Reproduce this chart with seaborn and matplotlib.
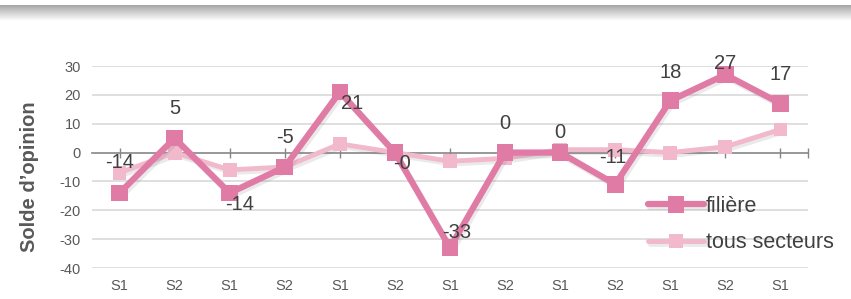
import numpy as np
import pandas as pd
import seaborn as sns
import matplotlib.pyplot as plt
import matplotlib.patheffects as pe

# semesters and opinion balances
semestres = ['S1', 'S2', 'S1', 'S2', 'S1', 'S2', 'S1', 'S2', 'S1', 'S2', 'S1', 'S2', 'S1']
filiere = [-14, 5, -14, -5, 21, 0, -33, 0, 0, -11, 18, 27, 17]
tous_secteurs = [-7, 0, -6, -5, 3, 0, -3, -2, 1, 1, 0, 2, 8]
etiquettes = ['-14', '5', '-14', '-5', '21', '-0', '-33', '0', '0', '-11', '18', '27', '17']
y_ticks = [30, 20, 10, 0, -10, -20, -30, -40]

# label offsets in pixels (dx, dy)
offsets = [(0, 30), (0, 30), (10, -12), (0, 29), (12, -12), (7, -11), (7, 15),
           (0, 29), (0, 20), (-2, 27), (0, 28), (0, 11), (0, 29)]

c_fil = '#E07BA6'
c_tous = '#F2B8CC'
txt = '#404040'

df = pd.DataFrame({'pos': np.arange(len(semestres)), 'filiere': filiere, 'tous': tous_secteurs})

sns.set_style('white')
plt.rcParams['font.family'] = ['Liberation Sans', 'DejaVu Sans']

fig = plt.figure(figsize=(8.51, 2.99), dpi=100)

# gradient band on top
gax = fig.add_axes([0, 1 - 21 / 299, 1, 16 / 299])
grad = np.linspace(0.58, 1.0, 64) ** 0.8
gax.imshow(np.repeat(grad[:, None], 4, axis=1), cmap='gray', vmin=0, vmax=1, aspect='auto')
gax.axis('off')

ax = fig.add_axes([92 / 851, 1 - 268 / 299, (808 - 92) / 851, (268 - 66) / 299])

shadow = [pe.SimpleLineShadow(offset=(1.5, -2), shadow_color='#777777', alpha=0.15), pe.Normal()]

sns.lineplot(data=df, x='pos', y='tous', ax=ax, color=c_tous, lw=3.5, marker='s', ms=10,
             markeredgewidth=0, label='tous secteurs', path_effects=shadow, zorder=3)
sns.lineplot(data=df, x='pos', y='filiere', ax=ax, color=c_fil, lw=4.5, marker='s', ms=12,
             markeredgewidth=0, label='filière', path_effects=shadow, zorder=4)

for i, (v, lab) in enumerate(zip(filiere, etiquettes)):
    dx, dy = offsets[i]
    ax.annotate(lab, (i, v), xytext=(dx * 0.72, dy * 0.72), textcoords='offset points',
                ha='center', va='center', fontsize=14.5, color=txt, zorder=5)

ax.set_xlim(-0.5, len(semestres) - 0.5)
ax.set_ylim(-40, 30)
ax.set_xticks(range(len(semestres)))
ax.set_xticklabels(semestres)
ax.set_yticks(y_ticks)
ax.set_yticklabels([str(t) for t in y_ticks])
ax.tick_params(axis='both', length=0, labelsize=10.5, labelcolor='#595959')
ax.tick_params(axis='x', pad=8)
ax.tick_params(axis='y', pad=8)
for s in ax.spines.values():
    s.set_visible(False)
for t in y_ticks:
    if t != 0:
        ax.axhline(t, color='#D9D9D9', lw=1.2, zorder=0)

# zero axis with tick marks
sec = ax.secondary_xaxis(40 / 70)
sec.set_xticks(list(range(len(semestres))) + [len(semestres) - 0.5])
sec.tick_params(direction='inout', length=7, width=1, color='#868686', labelbottom=False, labeltop=False)
for name, s in sec.spines.items():
    s.set_visible(name == 'bottom')
sec.spines['bottom'].set_color('#868686')
sec.spines['bottom'].set_linewidth(1.2)
sec.spines['bottom'].set_zorder(1)

ax.set_xlabel('')
ax.set_ylabel('')
fig.text(30 / 851, 1 - 177 / 299, 'Solde d’opinion', rotation=90, ha='center', va='center',
         fontsize=14.5, fontweight='bold', color='#595959')

h, l = ax.get_legend_handles_labels()
leg = ax.legend(h[::-1], l[::-1], loc='upper left', bbox_to_anchor=(648 / 851, 1 - 196 / 299),
                bbox_transform=fig.transFigure, frameon=False, fontsize=15.5, handlelength=2.6,
                handletextpad=0.1, labelspacing=0.72, borderpad=0, borderaxespad=0)
for t in leg.get_texts():
    t.set_color(txt)

fig.savefig('out.png', dpi=100)
